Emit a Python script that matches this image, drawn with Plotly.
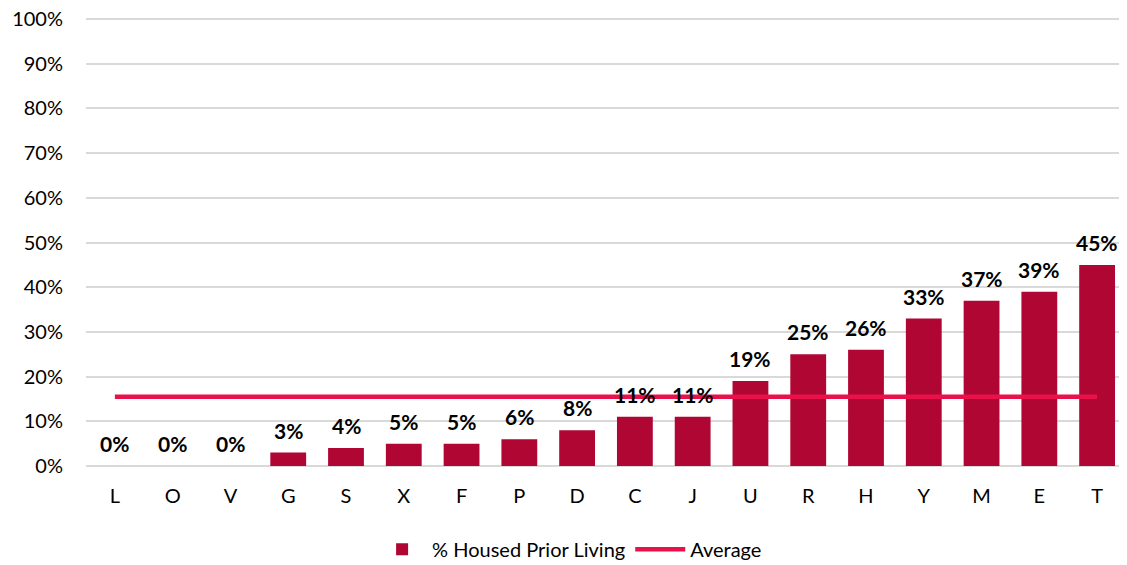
import plotly.graph_objects as go

categories = ["L", "O", "V", "G", "S", "X", "F", "P", "D", "C", "J", "U", "R", "H", "Y", "M", "E", "T"]
housed_pct = [0, 0, 0, 3, 4, 5, 5, 6, 8, 11, 11, 19, 25, 26, 33, 37, 39, 45]
average_pct = 15.5
y_ticks = [0, 10, 20, 30, 40, 50, 60, 70, 80, 90, 100]
y_tick_labels = [f"{v}%" for v in y_ticks]

BAR_COLOR = "#B00634"
AVG_COLOR = "#E8114A"
FONT = "Lato, 'Open Sans', sans-serif"

fig = go.Figure()

fig.add_trace(go.Bar(
    x=categories,
    y=housed_pct,
    name="% Housed Prior Living",
    marker=dict(color=BAR_COLOR, line=dict(width=0)),
))

fig.add_trace(go.Scatter(
    x=categories,
    y=[average_pct] * len(categories),
    mode="lines",
    name="Average",
    line=dict(color=AVG_COLOR, width=4.5),
))

# data labels above the bars
for cat, val in zip(categories, housed_pct):
    fig.add_annotation(
        x=cat, y=val,
        text=f"{val}%",
        showarrow=False,
        yanchor="bottom",
        yshift=8,
        font=dict(family=FONT, size=21, color="#000000", weight="bold"),
    )

# page body adds ~8px offset, so the figure is sized a bit smaller
fig.update_layout(
    width=1119,
    height=557,
    paper_bgcolor="white",
    plot_bgcolor="white",
    font=dict(family=FONT, size=20, color="#000000"),
    bargap=0.38,
    margin=dict(l=78, r=1, t=10, b=99, autoexpand=False),
    showlegend=True,
    legend=dict(
        orientation="h",
        xanchor="center", x=0.465,
        yanchor="middle", y=-0.186,
        font=dict(size=20),
        itemwidth=50,
    ),
    xaxis=dict(
        showgrid=False,
        showline=False,
        ticks="",
        tickfont=dict(size=20),
        ticklabelstandoff=16,
        automargin=False,
    ),
    yaxis=dict(
        range=[0, 100.25],
        tickvals=y_ticks,
        ticktext=y_tick_labels,
        showgrid=True,
        gridcolor="#D9D9D9",
        gridwidth=1.5,
        zeroline=True,
        zerolinecolor="#D9D9D9",
        zerolinewidth=1.5,
        showline=False,
        ticks="",
        tickfont=dict(size=20),
        ticklabelstandoff=22,
        ticklabeloverflow="allow",
        automargin=False,
    ),
)

fig.write_html("out.html")
